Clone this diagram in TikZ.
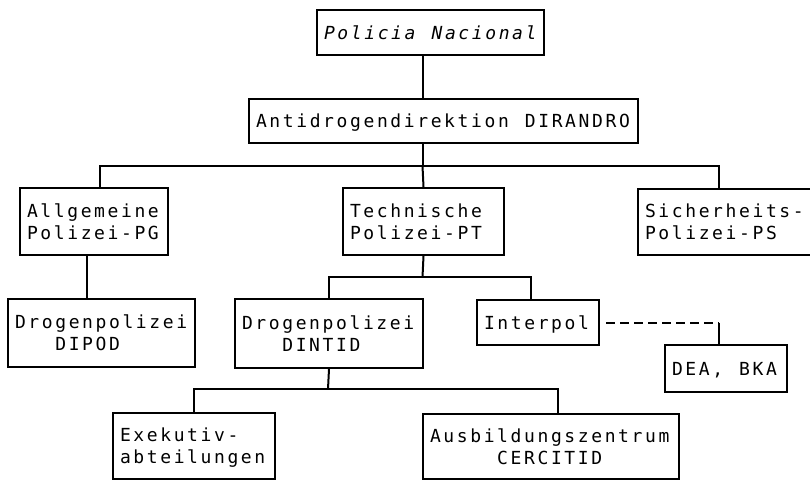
\documentclass[tikz,border=0pt]{standalone}
\usepackage{fontspec}
\newfontfamily\orgfont[LetterSpace=14.5]{DejaVu Sans Mono}
\newcommand\ospc{\char"00A0 }
\begin{document}
\begin{tikzpicture}[x=1pt,y=-1pt,
  orgbox/.style={draw, line width=2pt, rectangle, inner xsep=7pt, inner ysep=0pt,
    font=\orgfont\fontsize{18pt}{22pt}\selectfont, align=left,
    text height=13pt, text depth=0pt, anchor=north west},
  twoline/.style={text depth=22pt},
  conn/.style={line width=2pt},
  dashconn/.style={line width=2pt, dash pattern=on 9pt off 5pt}]
\fill[white] (0,0) rectangle (810,480);
\useasboundingbox (0,0) rectangle (810,480);

\node[orgbox, text width=213pt, minimum height=45pt] (pn) at (316,9) {\itshape Policia\ospc Nacional};
\node[orgbox, text width=375pt, minimum height=44pt] (dir) at (248,98) {Antidrogendirektion\ospc DIRANDRO};
\node[orgbox, twoline, text width=134pt, minimum height=67pt] (pg) at (19,187) {Allgemeine\\Polizei-PG};
\node[orgbox, twoline, text width=147pt, minimum height=67pt] (pt) at (342,187) {Technische\\Polizei-PT};
\node[orgbox, twoline, text width=190pt, minimum height=66pt] (ps) at (637,188) {Sicherheits-\\Polizei-PS};
\node[orgbox, twoline, text width=173pt, minimum height=68pt] (dipod) at (7,298) {Drogenpolizei\\\ospc\ospc\ospc DIPOD};
\node[orgbox, twoline, text width=174pt, minimum height=69pt] (dintid) at (234,298) {Drogenpolizei\\\ospc\ospc\ospc DINTID};
\node[orgbox, text width=108pt, minimum height=45pt] (interpol) at (476,299) {Interpol};
\node[orgbox, text width=108pt, minimum height=47pt] (dea) at (664,344) {DEA,\ospc BKA};
\node[orgbox, twoline, text width=148pt, minimum height=66pt] (exek) at (112,412) {Exekutiv-\\abteilungen};
\node[orgbox, twoline, text width=242pt, minimum height=65pt] (ausb) at (422,413) {Ausbildungszentrum\\\ospc\ospc\ospc\ospc\ospc CERCITID};

\coordinate (busA) at (422.5,166);
\coordinate (busB) at (422.5,277);
\coordinate (busC) at (328,389);
\coordinate (psdrop) at (719,188);

\draw[conn] (pn.south -| busA) -- (dir.north -| busA);
\draw[conn] (dir.south -| busA) -- (busA);
\draw[conn] ([xshift=6pt]pg.north) |- (busA) -| (psdrop |- ps.north);
\draw[conn] (busA) -- (pt.north);

\draw[conn] ([xshift=-7pt]pg.south) -- ([xshift=-7pt]pg.south |- dipod.north);

\draw[conn] (pt.south) -- (busB);
\draw[conn] (dintid.north) |- (busB) -| ([xshift=-7pt]interpol.north);

\draw[conn] (dintid.south) -- (busC);
\draw[conn] (exek.north) |- (busC) -| ([xshift=7pt]ausb.north);

\coordinate (corner) at ([xshift=-7pt]dea.north |- interpol.east);
\draw[dashconn] ([xshift=6pt]interpol.east) -- (corner);
\draw[conn] (corner) -- ([xshift=-7pt]dea.north);
\end{tikzpicture}
\end{document}
